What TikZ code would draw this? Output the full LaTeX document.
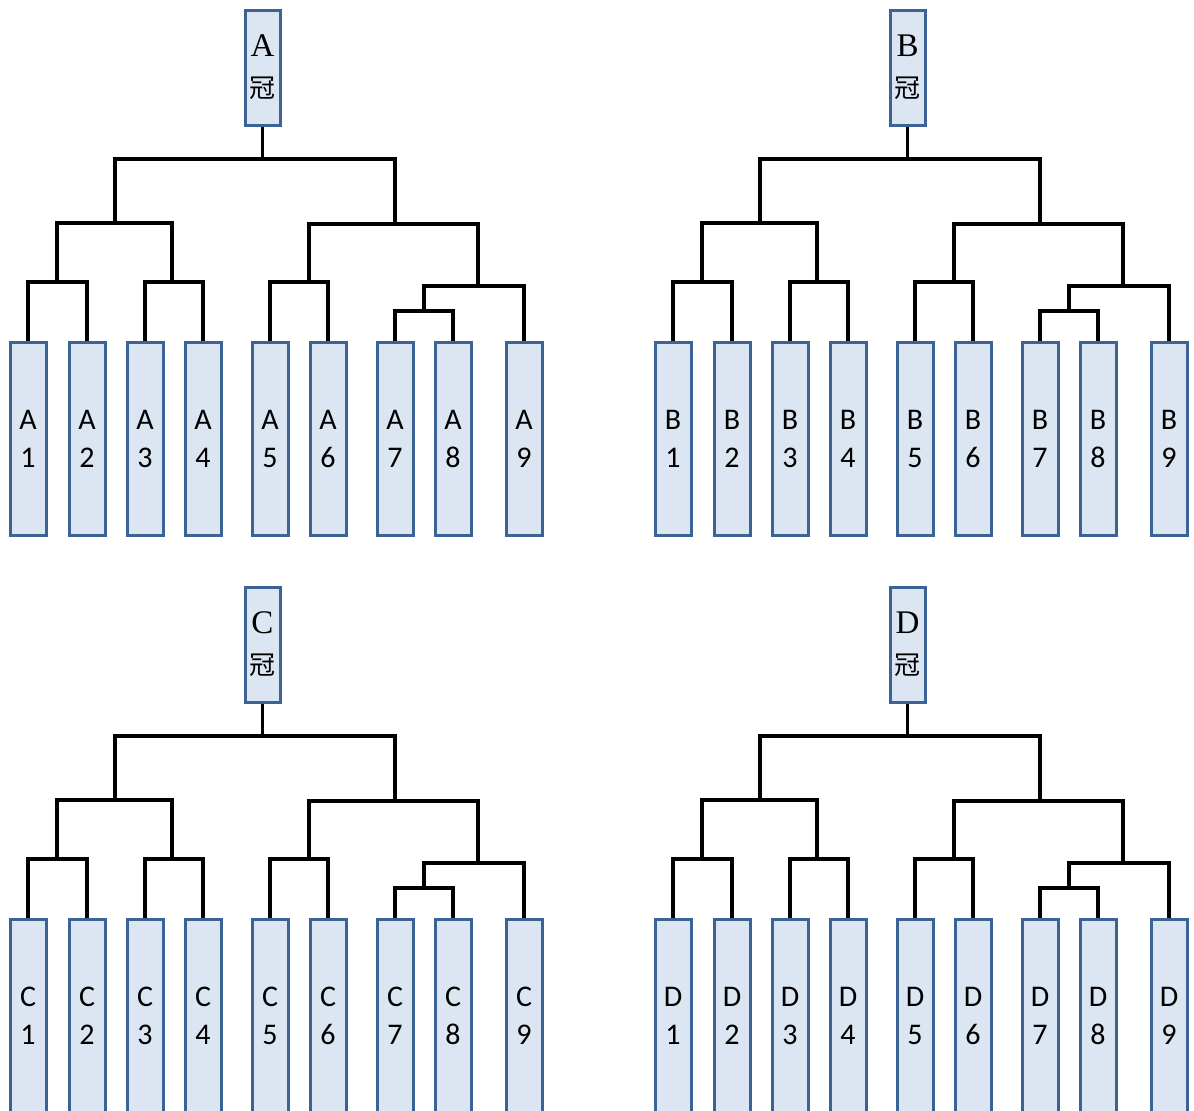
\documentclass[tikz,border=0pt]{standalone}
\usepackage{fontspec}
\setmainfont{Liberation Serif}
\newfontfamily\leaffont{Carlito}
\newfontfamily\cjkfont{Noto Sans CJK SC}
\definecolor{boxblue}{HTML}{3B6396}
\definecolor{boxfill}{HTML}{DCE6F2}
\begin{document}
\begin{tikzpicture}[
    x=1pt, y=-1pt,
    team/.style={rectangle, draw=boxblue, line width=3pt, fill=boxfill, minimum width=36pt, minimum height=193pt, inner sep=0pt, align=center, font=\leaffont\fontsize{30}{38}\selectfont},
    champ/.style={rectangle, draw=boxblue, line width=3pt, fill=boxfill, minimum width=35pt, minimum height=115pt, inner sep=0pt, align=center, font=\fontsize{33}{41}\selectfont},
    link/.style={line width=3.5pt, black},
]
\useasboundingbox (0,0) rectangle (1194,1111);

% one bracket per group
\foreach \p/\dx/\dy in {A/0/0, B/645/0, C/0/577, D/645/577} {
\begin{scope}[shift={(\dx,\dy)}]
\node[champ] (\p0) at (262.5,67.5) {\p\\{\cjkfont\fontsize{26}{41}\selectfont 冠}};
\foreach \i/\x in {1/28,2/87,3/145,4/203,5/270,6/328,7/395,8/453,9/524}
    \node[team] (\p\i) at (\x,438.5) {\p\\\i};

\coordinate (\p-12) at (57,282);
\coordinate (\p-34) at (172,282);
\coordinate (\p-56) at (309,282);
\coordinate (\p-78) at (424,311);
\coordinate (\p-789) at (478,286);
\coordinate (\p-14) at (115,223);
\coordinate (\p-59) at (395,224);
\coordinate (\p-top) at (262.5,159);

\draw[link] (\p1.north) |- (\p-12) -| (\p2.north);
\draw[link] (\p3.north) |- (\p-34) -| (\p4.north);
\draw[link] (\p5.north) |- (\p-56) -| (\p6.north);
\draw[link] (\p7.north) |- (\p-78) -| (\p8.north);
\draw[link] (\p-78) |- (\p-789) -| (\p9.north);
\draw[link] (\p-12) |- (\p-14) -| (\p-34);
\draw[link] (\p-56) |- (\p-59) -| (\p-789);
\draw[link] (\p-14) |- (\p-top) -| (\p-59);
\draw[link] (\p0) -- (\p-top);
\end{scope}
}
\end{tikzpicture}
\end{document}
